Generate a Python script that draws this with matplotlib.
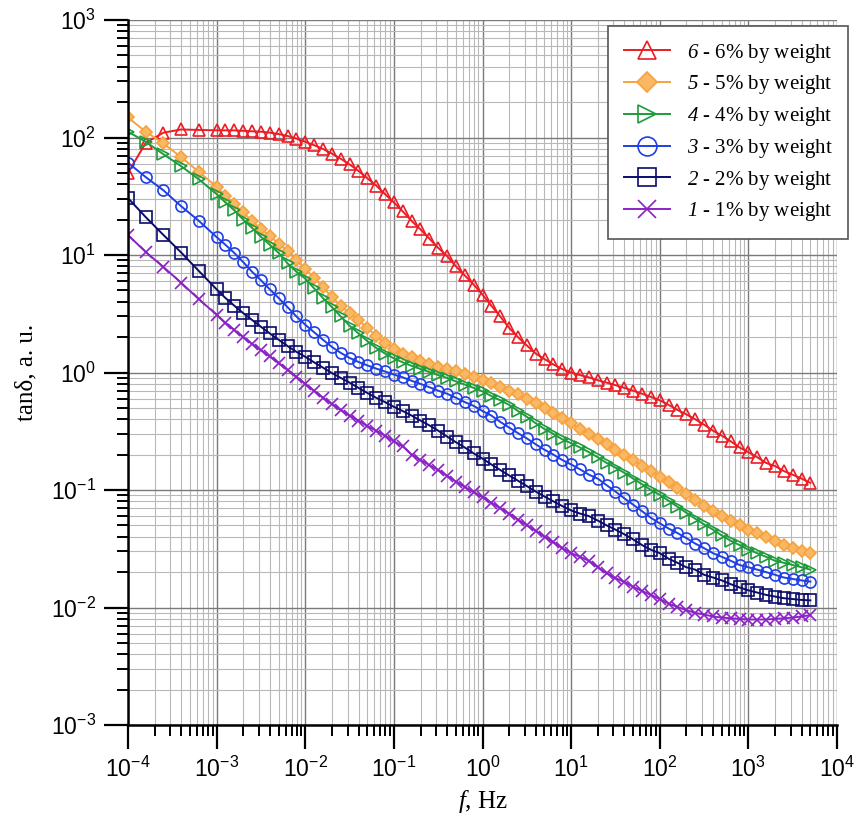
import numpy as np
import matplotlib
matplotlib.use("Agg")
import matplotlib.pyplot as plt
from matplotlib.ticker import LogLocator, NullFormatter, FuncFormatter

# rm is used for the italic numerals (serif), sf for the tick labels
plt.rcParams['mathtext.fontset'] = 'custom'
plt.rcParams['mathtext.rm'] = 'Liberation Serif:italic'
plt.rcParams['mathtext.sf'] = 'Liberation Sans'
plt.rcParams['axes.unicode_minus'] = False

# log10 of frequency for every measured point
freq_exp = [-4.0, -3.8, -3.6, -3.4, -3.2,
            -3.0, -2.9, -2.8, -2.7, -2.6, -2.5, -2.4, -2.3, -2.2, -2.1,
            -2.0, -1.9, -1.8, -1.7, -1.6, -1.5, -1.4, -1.3, -1.2, -1.1,
            -1.0, -0.9, -0.8, -0.7, -0.6, -0.5, -0.4, -0.3, -0.2, -0.1,
            0.0, 0.1, 0.2, 0.3, 0.4, 0.5, 0.6, 0.7, 0.8, 0.9,
            1.0, 1.1, 1.2, 1.3, 1.4, 1.5, 1.6, 1.7, 1.8, 1.9,
            2.0, 2.1, 2.2, 2.3, 2.4, 2.5, 2.6, 2.7, 2.8, 2.9,
            3.0, 3.1, 3.2, 3.3, 3.4, 3.5, 3.6, 3.7]

tan_6 = [50, 90, 110, 117, 116,
         115, 115, 115, 114, 113, 112, 110, 107, 103, 98,
         92, 86, 80, 73, 66, 59, 52, 45, 39, 33,
         28, 23.5, 19.5, 16.5, 13.8, 11.5, 9.8, 8.0, 6.7, 5.6,
         4.6, 3.7, 3.0, 2.4, 2.0, 1.7, 1.45, 1.3, 1.17, 1.07,
         1.0, 0.95, 0.91, 0.86, 0.82, 0.78, 0.74, 0.70, 0.66, 0.62,
         0.58, 0.53, 0.48, 0.44, 0.40, 0.36, 0.32, 0.29, 0.26, 0.23,
         0.21, 0.19, 0.17, 0.16, 0.145, 0.135, 0.125, 0.115]

tan_5 = [148, 112, 89, 68, 51,
         38, 32, 27, 23, 19.5, 16.5, 14.5, 12.5, 10.8, 9.0,
         7.6, 6.4, 5.3, 4.4, 3.7, 3.2, 2.8, 2.4, 2.05, 1.8,
         1.6, 1.45, 1.35, 1.25, 1.18, 1.12, 1.07, 1.02, 0.97, 0.92,
         0.87, 0.82, 0.76, 0.70, 0.65, 0.60, 0.55, 0.50, 0.45, 0.41,
         0.37, 0.33, 0.30, 0.27, 0.245, 0.22, 0.20, 0.18, 0.16, 0.145,
         0.13, 0.118, 0.105, 0.093, 0.082, 0.073, 0.066, 0.060, 0.055, 0.050,
         0.046, 0.043, 0.040, 0.037, 0.034, 0.032, 0.030, 0.029]

tan_4 = [112, 92, 72, 57, 44,
         33, 28, 24, 20, 17, 14.3, 12.2, 10.4, 8.5, 7.2,
         6.3, 5.2, 4.3, 3.6, 3.0, 2.5, 2.15, 1.85, 1.62, 1.45,
         1.32, 1.22, 1.14, 1.07, 1.01, 0.95, 0.90, 0.84, 0.79, 0.74,
         0.69, 0.63, 0.58, 0.53, 0.47, 0.42, 0.37, 0.33, 0.30, 0.27,
         0.25, 0.23, 0.21, 0.19, 0.17, 0.155, 0.14, 0.125, 0.112, 0.10,
         0.091, 0.081, 0.072, 0.064, 0.057, 0.051, 0.046, 0.041, 0.037, 0.034,
         0.031, 0.029, 0.027, 0.025, 0.024, 0.023, 0.022, 0.021]

tan_3 = [61, 46, 35.5, 26, 19.5,
         14.2, 12.2, 10.4, 8.7, 7.2, 6.1, 5.1, 4.3, 3.6, 3.0,
         2.55, 2.2, 1.9, 1.65, 1.47, 1.33, 1.23, 1.15, 1.08, 1.02,
         0.96, 0.91, 0.85, 0.80, 0.75, 0.70, 0.66, 0.61, 0.56, 0.52,
         0.47, 0.43, 0.38, 0.34, 0.305, 0.275, 0.245, 0.22, 0.20, 0.18,
         0.165, 0.15, 0.135, 0.125, 0.11, 0.097, 0.085, 0.075, 0.066, 0.058,
         0.052, 0.047, 0.043, 0.039, 0.035, 0.032, 0.029, 0.027, 0.025, 0.023,
         0.022, 0.021, 0.020, 0.019, 0.018, 0.0175, 0.017, 0.0166]

tan_2 = [30.5, 21, 14.8, 10.5, 7.3,
         5.1, 4.3, 3.7, 3.2, 2.8, 2.45, 2.15, 1.9, 1.68, 1.5,
         1.36, 1.22, 1.1, 0.99, 0.9, 0.82, 0.74, 0.67, 0.61, 0.56,
         0.51, 0.47, 0.43, 0.39, 0.355, 0.32, 0.285, 0.255, 0.23, 0.205,
         0.185, 0.165, 0.148, 0.133, 0.12, 0.108, 0.097, 0.088, 0.08, 0.073,
         0.067, 0.063, 0.060, 0.055, 0.050, 0.046, 0.042, 0.038, 0.034, 0.031,
         0.029, 0.026, 0.024, 0.022, 0.021, 0.019, 0.018, 0.017, 0.0158, 0.0148,
         0.014, 0.0134, 0.0128, 0.0124, 0.012, 0.0118, 0.0116, 0.0115]

tan_1 = [14.8, 10.6, 7.9, 5.8, 4.2,
         3.1, 2.65, 2.3, 2.0, 1.75, 1.55, 1.37, 1.2, 1.05, 0.92,
         0.8, 0.7, 0.61, 0.54, 0.48, 0.43, 0.39, 0.35, 0.32, 0.29,
         0.26, 0.235, 0.2, 0.18, 0.163, 0.148, 0.132, 0.118, 0.106, 0.096,
         0.087, 0.078, 0.070, 0.063, 0.056, 0.050, 0.045, 0.040, 0.036, 0.032,
         0.029, 0.027, 0.025, 0.022, 0.0195, 0.0178, 0.0165, 0.015, 0.0138, 0.0128,
         0.0118, 0.0108, 0.0101, 0.0095, 0.009, 0.0087, 0.0084, 0.0082, 0.0081, 0.008,
         0.0079, 0.0079, 0.0079, 0.008, 0.0081, 0.0082, 0.0084, 0.0086]

labels = [r'$\mathrm{6}$ - 6% by weight', r'$\mathrm{5}$ - 5% by weight',
          r'$\mathrm{4}$ - 4% by weight', r'$\mathrm{3}$ - 3% by weight',
          r'$\mathrm{2}$ - 2% by weight', r'$\mathrm{1}$ - 1% by weight']
colors = ['#ec1c24', '#f7a23c', '#1e9b3c', '#1f3fe6', '#0b0b6b', '#8b22c6']
markers = ['^', 'D', '>', 'o', 's', 'x']

freq = 10.0 ** np.array(freq_exp)
series = [tan_6, tan_5, tan_4, tan_3, tan_2, tan_1]

fig = plt.figure(figsize=(8.67, 8.27), dpi=100)
ax = fig.add_axes([128 / 867, 1 - 725 / 827, (837 - 128) / 867, (725 - 20) / 827])

for y, lab, c, m in zip(series, labels, colors, markers):
    if m == 'D':
        ax.plot(freq, y, color=c, marker=m, markersize=6, markerfacecolor='#f9b866',
                markeredgecolor=c, markeredgewidth=1.2, linewidth=1.4, label=lab)
    else:
        ax.plot(freq, y, color=c, marker=m, markersize=8, markerfacecolor='none',
                markeredgecolor=c, markeredgewidth=1.2, linewidth=1.4, label=lab)

ax.set_xscale('log')
ax.set_yscale('log')
ax.set_xlim(1e-4, 1e4)
ax.set_ylim(1e-3, 1e3)

ax.xaxis.set_major_locator(LogLocator(base=10, numticks=20))
ax.yaxis.set_major_locator(LogLocator(base=10, numticks=20))
ax.xaxis.set_minor_locator(LogLocator(base=10, subs=np.arange(2, 10), numticks=100))
ax.yaxis.set_minor_locator(LogLocator(base=10, subs=np.arange(2, 10), numticks=100))
ax.xaxis.set_minor_formatter(NullFormatter())
ax.yaxis.set_minor_formatter(NullFormatter())
fmt = FuncFormatter(lambda v, p: r'$\mathsf{10^{%d}}$' % round(np.log10(v)))
ax.xaxis.set_major_formatter(fmt)
ax.yaxis.set_major_formatter(fmt)

ax.grid(which='major', color='#7a7a7a', linewidth=1.0)
ax.grid(which='minor', color='#b8b8b8', linewidth=0.8)
ax.set_axisbelow(True)

ax.spines['top'].set_visible(False)
ax.spines['right'].set_visible(False)
ax.spines['left'].set_linewidth(1.8)
ax.spines['bottom'].set_linewidth(1.8)
ax.tick_params(which='major', direction='out', length=17, width=1.6, labelsize=16.5, pad=6)
ax.tick_params(which='minor', direction='out', length=8, width=1.4)

ax.set_xlabel(r'$\mathrm{f}$, Hz', fontsize=18, family='Liberation Serif', labelpad=4)
ax.set_ylabel('tanδ, a. u.', fontsize=18, family='Liberation Serif', labelpad=10)

leg = ax.legend(loc='upper right', bbox_to_anchor=(848 / 867, 1 - 26 / 827),
                bbox_transform=fig.transFigure, borderaxespad=0,
                prop={'family': 'Liberation Serif', 'size': 15},
                fancybox=False, edgecolor='#555555', framealpha=1, markerscale=1.7,
                handlelength=2.2, handletextpad=0.8, labelspacing=0.42, borderpad=0.75)
leg.get_frame().set_linewidth(1.2)

fig.savefig('out.png', dpi=100)
